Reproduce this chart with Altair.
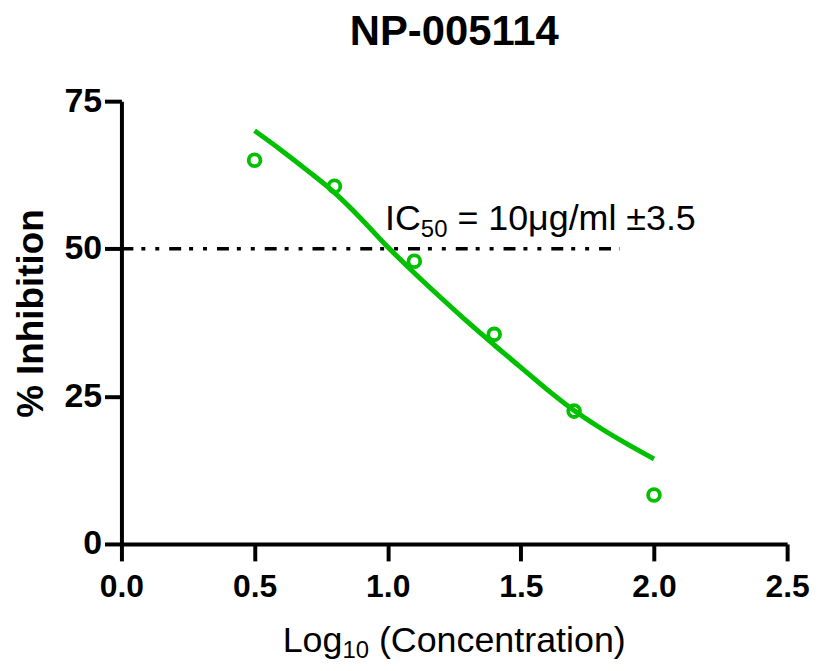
import altair as alt
import pandas as pd

log_conc = [0.5, 0.8, 1.1, 1.4, 1.7, 2.0]
inhibition = [65.0, 60.6, 47.9, 35.5, 22.5, 8.3]

# Fitted curve as drawn
curve_x = [0.5, 0.6, 0.7, 0.8, 0.9, 1.0, 1.1, 1.2, 1.3, 1.4, 1.5, 1.6, 1.7, 1.8, 1.9, 2.0]
curve_y = [70.0, 66.7, 63.2, 59.5, 55.1, 50.3, 45.9, 41.7, 37.6, 33.7, 29.9, 26.1, 22.6, 19.6, 16.9, 14.4]

# IC50 reference line and label
ic50_line_x = [0.0, 1.87]
ic50_line_y = [50.0]
label_pos = [0.99, 53.1]
label_parts = ["IC", "50", "= 10μg/ml ±3.5"]
xtitle_parts = ["Log", "10", "(Concentration)"]
xtitle_anchor = [1.25]

x_ticks = [0.0, 0.5, 1.0, 1.5, 2.0, 2.5]
y_ticks = [0, 25, 50, 75]

GREEN = "#00C000"
FONT = "Liberation Sans"

pts = pd.DataFrame({"x": log_conc, "y": inhibition})
crv = pd.DataFrame({"x": curve_x, "y": curve_y})
ref = pd.DataFrame({"x": [ic50_line_x[0]], "x2": [ic50_line_x[1]], "y": ic50_line_y})

xscale = alt.Scale(domain=[0, 2.5], nice=False, zero=False)
yscale = alt.Scale(domain=[0, 75], nice=False)

xaxis = alt.Axis(
    values=x_ticks, format=".1f", title=None,
    labelFont=FONT, labelFontSize=32, labelFontWeight="bold", labelColor="black",
    labelPadding=11, tickSize=17, tickWidth=4, tickColor="black",
    domainColor="black", domainWidth=4, grid=False, labelFlush=False,
)
yaxis = alt.Axis(
    values=y_ticks, title="% Inhibition",
    titleFont=FONT, titleFontSize=37, titleFontWeight="bold", titleColor="black",
    titleBaseline="alphabetic", titleX=-79, titleY=213, titleAngle=270, titleAlign="center",
    labelFont=FONT, labelFontSize=34, labelFontWeight="bold", labelColor="black",
    labelPadding=3, tickSize=17, tickWidth=4, tickColor="black",
    domainColor="black", domainWidth=4, grid=False, labelFlush=False,
)

base_x = alt.X("x:Q", scale=xscale, axis=xaxis)
base_y = alt.Y("y:Q", scale=yscale, axis=yaxis)

rule = alt.Chart(ref).mark_rule(
    color="black", strokeWidth=3.5, strokeDash=[12, 8, 4, 10, 4, 10]
).encode(x=base_x, x2="x2:Q", y=base_y)

line = alt.Chart(crv).mark_line(
    color=GREEN, strokeWidth=5, interpolate="monotone"
).encode(x="x:Q", y="y:Q")

points = alt.Chart(pts).mark_point(
    filled=False, color=GREEN, size=140, strokeWidth=3.8, opacity=1
).encode(x="x:Q", y="y:Q")

big = 36
small = 24
space = 0.278 * big

# IC50 annotation with subscript, built from pieces
ann_df = pd.DataFrame({"x": [label_pos[0]], "y": [label_pos[1]]})
w_ic = 1.0 * big
w_50 = 1.112 * small
ann_layers = []
for txt, dx, dy, fs in [
    (label_parts[0], 0, 0, big),
    (label_parts[1], w_ic, 7, small),
    (label_parts[2], w_ic + w_50 + space, 0, big),
]:
    ann_layers.append(
        alt.Chart(ann_df).mark_text(
            align="left", baseline="alphabetic", font=FONT, fontSize=fs,
            color="black", dx=dx, dy=dy, text=txt,
        ).encode(x="x:Q", y="y:Q")
    )

# X axis title with subscript, built from pieces, centred under the axis
xt_df = pd.DataFrame({"x": xtitle_anchor})
w_log = 1.668 * big
w_10 = 1.112 * small
w_rest = 6.895 * big
total = w_log + w_10 + space + w_rest
start = -total / 2
xt_layers = []
for txt, dx, dy, fs in [
    (xtitle_parts[0], start, 0, big),
    (xtitle_parts[1], start + w_log, 6, small),
    (xtitle_parts[2], start + w_log + w_10 + space, 0, big),
]:
    xt_layers.append(
        alt.Chart(xt_df).mark_text(
            align="left", baseline="alphabetic", font=FONT, fontSize=fs,
            color="black", dx=dx, dy=dy, text=txt,
        ).encode(x="x:Q", y=alt.value(554))
    )

chart = alt.layer(rule, line, points, *ann_layers, *xt_layers).properties(
    width=669, height=445,
    title=alt.TitleParams(
        "NP-005114", font=FONT, fontSize=42, fontWeight="bold", color="black",
        anchor="middle", frame="group", offset=30,
    ),
    autosize=alt.AutoSizeParams(type="none"),
    padding={"left": 114, "top": 92, "right": 26, "bottom": 118},
).configure_view(stroke=None)

chart.save("out.html", embed_options={"renderer": "svg", "actions": False})
